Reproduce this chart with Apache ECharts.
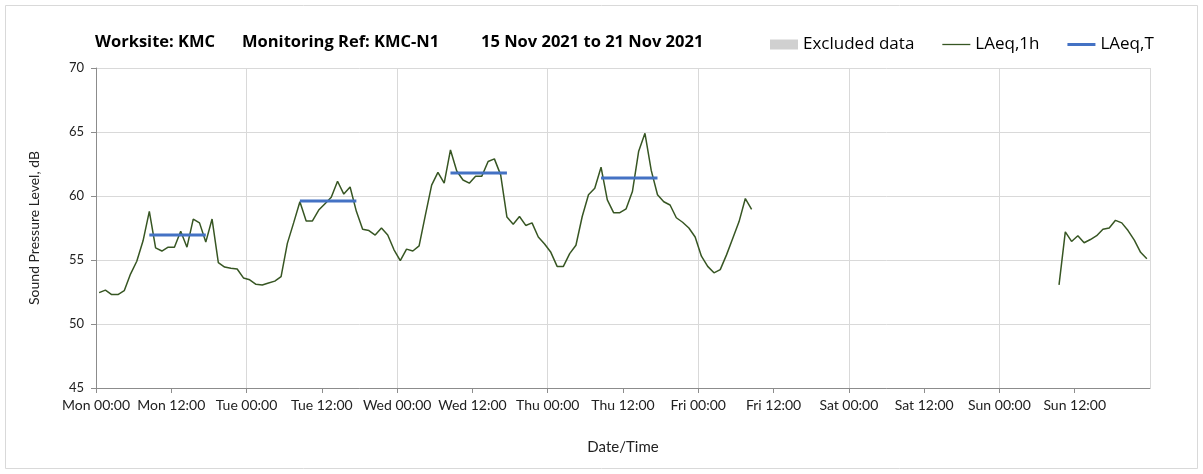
<!DOCTYPE html>
<html>
<head>
<meta charset="utf-8">
<script src="https://cdn.jsdelivr.net/npm/echarts@6/dist/echarts.min.js"></script>
<style>
  html, body { margin: 0; padding: 0; background: #fff; }
  #chart { width: 1203px; height: 474px; }
</style>
</head>
<body>
<div id="chart"></div>
<script>
// hourly LAeq,1h from Mon 00:00 (hour 0) to Fri 08:00 (hour 104)
var weekStartHour = 0;
var weekdayLevels = [
  52.45, 52.65, 52.3, 52.3, 52.6, 53.9, 54.9, 56.5, 58.8, 55.95, 55.7, 56.0,
  56.0, 57.25, 56.0, 58.2, 57.9, 56.4, 58.2, 54.8, 54.45, 54.35, 54.3, 53.6,
  53.45, 53.1, 53.05, 53.2, 53.35, 53.7, 56.3, 57.9, 59.55, 58.05, 58.05, 58.9,
  59.4, 59.9, 61.15, 60.15, 60.7, 58.8, 57.4, 57.3, 56.95, 57.5, 56.95, 55.8,
  54.95, 55.85, 55.7, 56.1, 58.5, 60.85, 61.85, 61.0, 63.6, 61.95, 61.25, 61.0,
  61.55, 61.55, 62.7, 62.9, 61.65, 58.35, 57.8, 58.4, 57.7, 57.9, 56.8, 56.25,
  55.6, 54.5, 54.5, 55.5, 56.15, 58.4, 60.1, 60.6, 62.25, 59.7, 58.7, 58.7,
  59.0, 60.35, 63.5, 64.9, 62.0, 60.1, 59.55, 59.3, 58.3, 57.95, 57.5, 56.8,
  55.3, 54.5, 54.0, 54.25, 55.4, 56.7, 58.0, 59.8, 58.95
];
// Sunday from 09:00 (hour 153) to 23:00
var sundayStartHour = 153;
var sundayLevels = [
  53.05, 57.2, 56.45, 56.9, 56.35, 56.6, 56.9, 57.4, 57.5, 58.1, 57.9, 57.3,
  56.55, 55.6, 55.1
];
// LAeq,T per monitored day (Mon..Thu), covering 08:00-18:00
var periodDays = [0, 1, 2, 3];
var periodLevels = [56.95, 59.6, 61.8, 61.4];
var periodFrom = 8.5, periodTo = 17.5;

var tickLabels = ['Mon 00:00', 'Mon 12:00', 'Tue 00:00', 'Tue 12:00', 'Wed 00:00', 'Wed 12:00',
  'Thu 00:00', 'Thu 12:00', 'Fri 00:00', 'Fri 12:00', 'Sat 00:00', 'Sat 12:00',
  'Sun 00:00', 'Sun 12:00', 'Mon 00:00'];

var hourly = [];
weekdayLevels.forEach(function (v, i) { hourly.push([weekStartHour + i + 0.5, v]); });
hourly.push([(weekStartHour + weekdayLevels.length + sundayStartHour) / 2, '-']);
sundayLevels.forEach(function (v, i) { hourly.push([sundayStartHour + i + 0.5, v]); });

var period = [];
periodDays.forEach(function (d, k) {
  if (k > 0) period.push([d * 24, '-']);
  period.push([d * 24 + periodFrom, periodLevels[k]]);
  period.push([d * 24 + periodTo, periodLevels[k]]);
});

var font = 'Lato';
var titleStyle = { fontSize: 16.5, fontWeight: 'bold', color: '#000', fontFamily: 'Open Sans' };
var myChart = echarts.init(document.getElementById('chart'));
var option = {
  backgroundColor: '#fff',
  animation: false,
  textStyle: { fontFamily: font },
  title: [
    { text: 'Worksite: KMC', left: 90, top: 29, textStyle: titleStyle },
    { text: 'Monitoring Ref: KMC-N1', left: 237, top: 29, textStyle: titleStyle },
    { text: '15 Nov 2021 to 21 Nov 2021', left: 476, top: 29, textStyle: titleStyle }
  ],
  graphic: [
    { type: 'rect', shape: { x: 5.5, y: 5.5, width: 1192, height: 463 }, style: { fill: 'none', stroke: '#d9d9d9', lineWidth: 1 }, z: -1 }
  ],
  legend: {
    left: 765,
    top: 31,
    itemWidth: 28,
    itemHeight: 10,
    itemGap: 28,
    symbolKeepAspect: true,
    textStyle: { fontSize: 17, color: '#000', fontFamily: 'Open Sans' },
    data: [
      { name: 'Excluded data', icon: 'rect' },
      { name: 'LAeq,1h', icon: 'path://M0,0H28V1.3H0Z', itemStyle: { borderWidth: 0 } },
      { name: 'LAeq,T', icon: 'path://M0,0H28V3H0Z', itemStyle: { borderWidth: 0 } }
    ]
  },
  grid: { left: 96, right: 53, top: 68, bottom: 86 },
  xAxis: [
    {
      type: 'value', min: 0, max: 168, interval: 12,
      name: 'Date/Time', nameLocation: 'middle', nameGap: 52,
      nameTextStyle: { fontSize: 15, color: '#222' },
      axisLine: { lineStyle: { color: '#8c8c8c' } },
      axisTick: { show: true, length: 5, lineStyle: { color: '#8c8c8c' } },
      axisLabel: { showMaxLabel: false, fontSize: 14, color: '#222', margin: 10,
        formatter: function (v) { return tickLabels[Math.round(v / 12)]; } },
      splitLine: { show: false }
    },
    {
      type: 'value', min: 0, max: 168, interval: 24, position: 'bottom',
      axisLine: { show: false }, axisTick: { show: false }, axisLabel: { show: false },
      splitLine: { show: true, lineStyle: { color: '#d9d9d9', width: 1 } }
    }
  ],
  yAxis: {
    type: 'value', min: 45, max: 70, interval: 5,
    name: 'Sound Pressure Level, dB', nameLocation: 'middle', nameGap: 55,
    nameTextStyle: { fontSize: 14, color: '#222' },
    axisLine: { show: true, lineStyle: { color: '#8c8c8c' } },
    axisTick: { show: true, length: 5, lineStyle: { color: '#8c8c8c' } },
    axisLabel: { fontSize: 13, color: '#222', margin: 12 },
    splitLine: { lineStyle: { color: '#d9d9d9' } }
  },
  series: [
    {
      name: 'Excluded data', type: 'bar', data: [],
      itemStyle: { color: '#d0d0d0' }
    },
    {
      name: 'LAeq,1h', type: 'line', data: hourly, showSymbol: false, symbol: 'none',
      connectNulls: false,
      lineStyle: { color: '#375623', width: 1.5 }, itemStyle: { color: '#375623' }
    },
    {
      name: 'LAeq,T', type: 'line', data: period, showSymbol: false, symbol: 'none',
      connectNulls: false, z: 3,
      lineStyle: { color: '#4472c4', width: 3 }, itemStyle: { color: '#4472c4' }
    }
  ]
};
myChart.setOption(option);
</script>
</body>
</html>
